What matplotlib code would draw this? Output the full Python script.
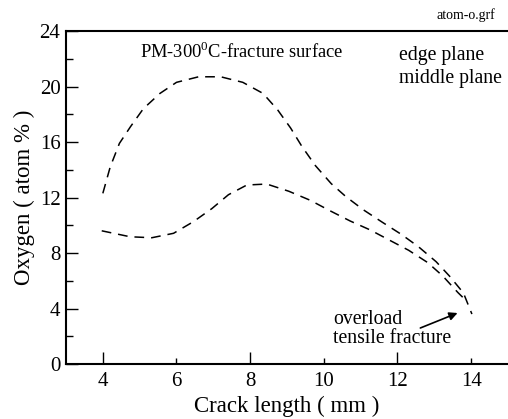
import matplotlib
matplotlib.use("Agg")
import matplotlib.pyplot as plt

plt.rcParams['font.family'] = ['Liberation Serif', 'DejaVu Serif']
plt.rcParams['mathtext.fontset'] = 'custom'
plt.rcParams['mathtext.rm'] = 'Liberation Serif'
plt.rcParams['lines.scale_dashes'] = False

# Edge plane (upper curve)
edge_x = [4.0, 4.2, 4.45, 4.75, 5.1, 5.55, 6.0, 6.6, 7.2, 7.8, 8.35, 8.75, 9.1, 9.4,
          9.77, 10.2, 10.6, 11.08, 11.58, 12.1, 12.57, 13.05, 13.41, 13.79, 14.02]
edge_y = [12.3, 14.2, 15.9, 17.1, 18.4, 19.5, 20.3, 20.7, 20.7, 20.3, 19.5, 18.3, 17.0, 15.7,
          14.3, 13.0, 12.06, 11.1, 10.23, 9.35, 8.45, 7.37, 6.34, 5.12, 3.6]

# Middle plane (lower curve)
mid_x = [3.97, 4.74, 5.33, 5.92, 6.46, 6.96, 7.41, 7.91, 8.45, 9.05, 9.63, 10.2, 10.72,
         11.26, 11.8, 12.3, 12.82, 13.23, 13.64, 13.85]
mid_y = [9.6, 9.17, 9.1, 9.42, 10.26, 11.2, 12.2, 12.9, 12.97, 12.45, 11.8, 11.0, 10.3,
         9.66, 8.9, 8.2, 7.31, 6.34, 5.15, 4.6]

x_ticks = [4, 6, 8, 10, 12, 14]
y_ticks = [0, 4, 8, 12, 16, 20, 24]
y_minor = [2, 6, 10, 14, 18, 22]

fig = plt.figure(figsize=(5.08, 4.19), dpi=100)
ax = fig.add_axes([66/508, 55/419, 1 - 66/508, (364-31)/419])

dash = (0, (7, 5))
ax.plot(edge_x, edge_y, color='black', lw=1.1, linestyle=dash)
ax.plot(mid_x, mid_y, color='black', lw=1.1, linestyle=dash)

ax.set_xlim(3, 15)
ax.set_ylim(0, 24)
ax.spines['right'].set_visible(False)
for s in ['left', 'bottom', 'top']:
    ax.spines[s].set_linewidth(1.5)

ax.set_yticks(y_ticks)
ax.set_yticks(y_minor, minor=True)
ax.set_xticks(x_ticks)
ax.tick_params(axis='y', which='major', direction='in', length=8.5, width=1.0,
               labelsize=15, pad=4)
ax.tick_params(axis='y', which='minor', direction='in', length=4.8, width=1.0)
ax.tick_params(axis='x', which='major', direction='in', length=8.5, width=1.0,
               labelsize=15, pad=6)
# short ticks at 6, 10, 14
for i, t in enumerate(ax.xaxis.get_major_ticks()):
    if x_ticks[i] in (6, 10, 14):
        t.tick1line.set_markersize(4)

ax.set_xlabel('Crack length ( mm )', fontsize=16.5, labelpad=3)
ax.set_ylabel('Oxygen ( atom % )', fontsize=16.5, labelpad=3)

ax.text(5.0, 22.5, 'PM-300$^0$C-fracture surface', fontsize=13.3, va='center', ha='left')
ax.text(12.05, 22.27, 'edge plane', fontsize=14.2, va='center', ha='left')
ax.text(12.05, 20.6, 'middle plane', fontsize=14.2, va='center', ha='left')
ax.text(10.26, 2.52, 'overload\ntensile fracture', fontsize=14.2, va='center', ha='left',
        linespacing=1.05)
ax.annotate('', xy=(13.7, 3.75), xytext=(12.55, 2.52),
            arrowprops=dict(arrowstyle='-|>', color='black', lw=1.2, mutation_scale=12))
fig.text(495/508, 1 - 15/419, 'atom-o.grf', fontsize=10, ha='right', va='center')

fig.savefig('out.png', dpi=100)
